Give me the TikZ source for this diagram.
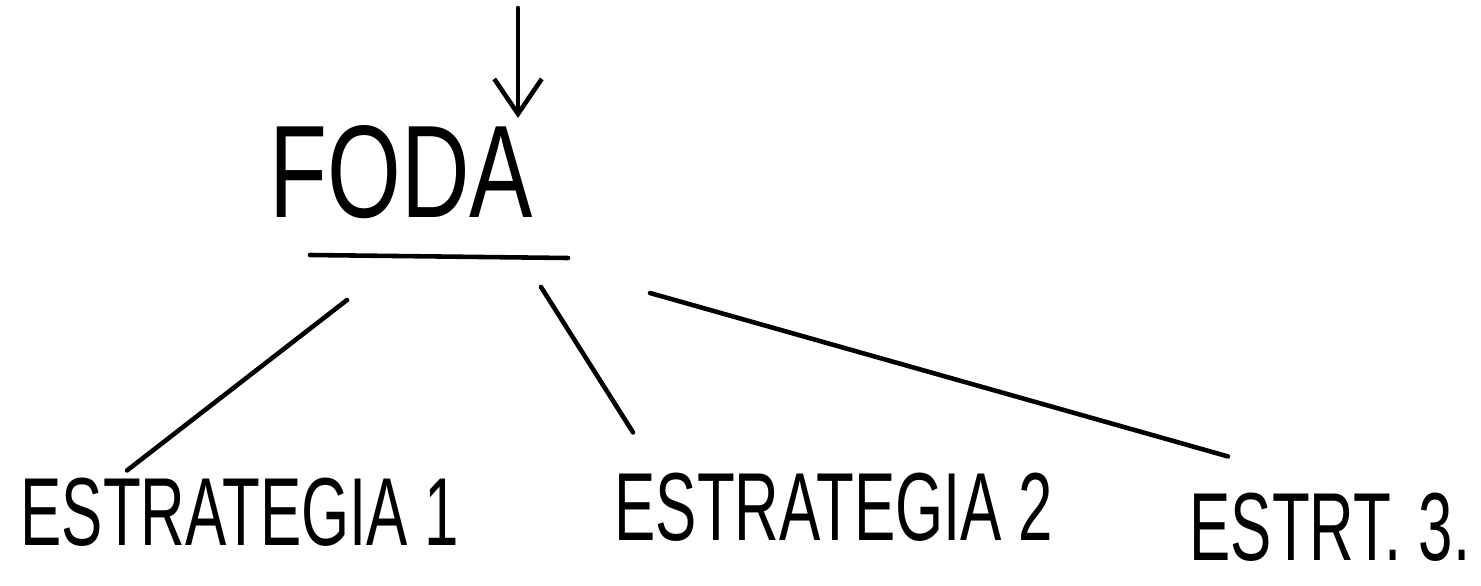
\documentclass[tikz,border=0pt]{standalone}
\usepackage{fontspec}
\newfontfamily\handfont[FakeStretch=0.64]{Liberation Sans}
\newfontfamily\titlefont[FakeStretch=0.72]{Liberation Sans}
\usetikzlibrary{arrows.meta}
\tikzstyle{title} = [inner sep=0pt, font=\titlefont\fontsize{75}{80}\selectfont]
\tikzstyle{label} = [inner sep=0pt, font=\handfont\fontsize{55}{60}\selectfont]
\tikzstyle{stroke} = [line width=2.6pt, line cap=round]
\tikzstyle{arrow} = [stroke, -{Straight Barb[length=0.7cm, width=0.95cm, line width=2.6pt]}]

\begin{document}
\begin{tikzpicture}[x=0.02cm, y=-0.02cm]
\useasboundingbox (0,0) rectangle (1481,585);
\node (foda) [title] at (401,172) {FODA};
\node (s1) [label] at (240,512) {ESTRATEGIA 1};
\node (s2) [label] at (834,507) {ESTRATEGIA 2};
\node (s3) [label] at (1330,527) {ESTRT. 3.};

\coordinate (top) at (518,8);
\coordinate (u1) at (347,300);
\coordinate (u2) at (541,287);
\coordinate (u3) at (650,293);

\draw [arrow, shorten >=4pt] (top) -- (top |- foda.north);
\draw [stroke] (310,255) -- (568,258);
\draw [stroke] (u1) -- ([xshift=-2.26cm, yshift=0.14cm]s1.north);
\draw [stroke] (u2) -- ([xshift=-4.02cm, yshift=0.8cm]s2.north);
\draw [stroke] (u3) -- ([xshift=-2.04cm, yshift=0.72cm]s3.north);
\end{tikzpicture}
\end{document}
